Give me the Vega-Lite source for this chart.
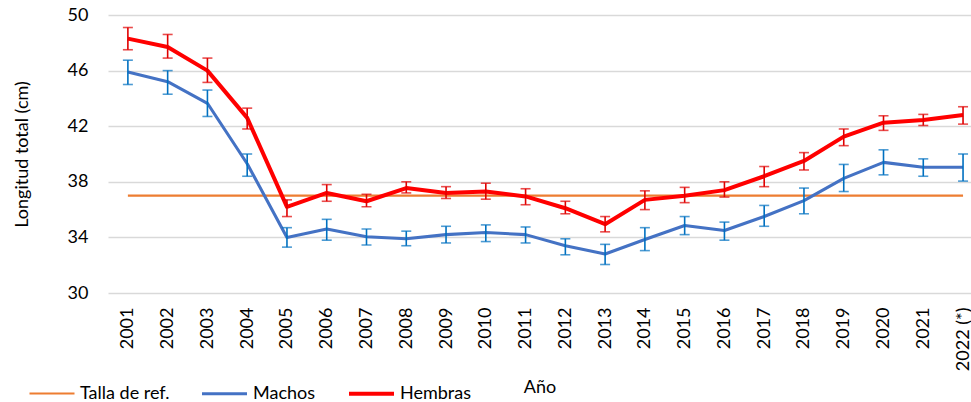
{
  "$schema": "https://vega.github.io/schema/vega-lite/v6.json",
  "width": 863,
  "height": 278,
  "autosize": {"type": "none"},
  "padding": {"left": 108, "top": 15, "right": 0, "bottom": 109},
  "background": "white",
  "config": {
    "font": "Lato",
    "view": {"stroke": null},
    "axis": {"labelFont": "Lato", "titleFont": "Lato", "labelColor": "#000000", "titleColor": "#000000", "titleFontWeight": "normal"}
  },
  "data": {
    "values": [
      {"year": 2001, "series": "Talla de ref.", "value": 37},
      {"year": 2022, "series": "Talla de ref.", "value": 37},
      {"year": 2001, "series": "Machos", "value": 45.9, "lo": 45.0, "hi": 46.75},
      {"year": 2002, "series": "Machos", "value": 45.2, "lo": 44.3, "hi": 46.0},
      {"year": 2003, "series": "Machos", "value": 43.65, "lo": 42.7, "hi": 44.6},
      {"year": 2004, "series": "Machos", "value": 39.3, "lo": 38.4, "hi": 40.0},
      {"year": 2005, "series": "Machos", "value": 34.0, "lo": 33.3, "hi": 34.7},
      {"year": 2006, "series": "Machos", "value": 34.6, "lo": 33.8, "hi": 35.3},
      {"year": 2007, "series": "Machos", "value": 34.05, "lo": 33.45, "hi": 34.6},
      {"year": 2008, "series": "Machos", "value": 33.9, "lo": 33.4, "hi": 34.45},
      {"year": 2009, "series": "Machos", "value": 34.2, "lo": 33.6, "hi": 34.8},
      {"year": 2010, "series": "Machos", "value": 34.35, "lo": 33.7, "hi": 34.9},
      {"year": 2011, "series": "Machos", "value": 34.2, "lo": 33.6, "hi": 34.75},
      {"year": 2012, "series": "Machos", "value": 33.4, "lo": 32.75, "hi": 33.9},
      {"year": 2013, "series": "Machos", "value": 32.8, "lo": 32.05, "hi": 33.5},
      {"year": 2014, "series": "Machos", "value": 33.85, "lo": 33.05, "hi": 34.7},
      {"year": 2015, "series": "Machos", "value": 34.85, "lo": 34.2, "hi": 35.5},
      {"year": 2016, "series": "Machos", "value": 34.5, "lo": 33.8, "hi": 35.1},
      {"year": 2017, "series": "Machos", "value": 35.5, "lo": 34.8, "hi": 36.3},
      {"year": 2018, "series": "Machos", "value": 36.65, "lo": 35.7, "hi": 37.55},
      {"year": 2019, "series": "Machos", "value": 38.25, "lo": 37.3, "hi": 39.25},
      {"year": 2020, "series": "Machos", "value": 39.4, "lo": 38.5, "hi": 40.3},
      {"year": 2021, "series": "Machos", "value": 39.05, "lo": 38.4, "hi": 39.65},
      {"year": 2022, "series": "Machos", "value": 39.05, "lo": 38.05, "hi": 40.0},
      {"year": 2001, "series": "Hembras", "value": 48.3, "lo": 47.5, "hi": 49.1},
      {"year": 2002, "series": "Hembras", "value": 47.7, "lo": 46.9, "hi": 48.6},
      {"year": 2003, "series": "Hembras", "value": 46.0, "lo": 45.15, "hi": 46.9},
      {"year": 2004, "series": "Hembras", "value": 42.6, "lo": 41.8, "hi": 43.3},
      {"year": 2005, "series": "Hembras", "value": 36.2, "lo": 35.5, "hi": 36.7},
      {"year": 2006, "series": "Hembras", "value": 37.2, "lo": 36.6, "hi": 37.8},
      {"year": 2007, "series": "Hembras", "value": 36.6, "lo": 36.2, "hi": 37.1},
      {"year": 2008, "series": "Hembras", "value": 37.55, "lo": 37.2, "hi": 38.0},
      {"year": 2009, "series": "Hembras", "value": 37.2, "lo": 36.8, "hi": 37.65},
      {"year": 2010, "series": "Hembras", "value": 37.3, "lo": 36.75, "hi": 37.9},
      {"year": 2011, "series": "Hembras", "value": 36.95, "lo": 36.35, "hi": 37.5},
      {"year": 2012, "series": "Hembras", "value": 36.1, "lo": 35.7, "hi": 36.6},
      {"year": 2013, "series": "Hembras", "value": 34.95, "lo": 34.4, "hi": 35.5},
      {"year": 2014, "series": "Hembras", "value": 36.7, "lo": 36.0, "hi": 37.35},
      {"year": 2015, "series": "Hembras", "value": 37.0, "lo": 36.5, "hi": 37.6},
      {"year": 2016, "series": "Hembras", "value": 37.4, "lo": 36.9, "hi": 38.0},
      {"year": 2017, "series": "Hembras", "value": 38.4, "lo": 37.65, "hi": 39.1},
      {"year": 2018, "series": "Hembras", "value": 39.5, "lo": 38.85, "hi": 40.1},
      {"year": 2019, "series": "Hembras", "value": 41.25, "lo": 40.6, "hi": 41.8},
      {"year": 2020, "series": "Hembras", "value": 42.25, "lo": 41.7, "hi": 42.75},
      {"year": 2021, "series": "Hembras", "value": 42.45, "lo": 42.05, "hi": 42.85},
      {"year": 2022, "series": "Hembras", "value": 42.8, "lo": 42.15, "hi": 43.4}
    ]
  },
  "encoding": {
    "x": {
      "field": "year",
      "type": "quantitative",
      "scale": {"domain": [2000.5, 2022.2], "nice": false, "zero": false},
      "axis": {
        "title": "Año",
        "titleFontSize": 18,
        "titleY": 94,
        "titleBaseline": "middle",
        "values": [2001,2002,2003,2004,2005,2006,2007,2008,2009,2010,2011,2012,2013,2014,2015,2016,2017,2018,2019,2020,2021,2022],
        "labelExpr": "datum.value == 2022 ? '2022 (*)' : '' + datum.value",
        "labelAngle": 270,
        "labelAlign": "right",
        "labelBaseline": "middle",
        "labelFontSize": 18,
        "labelPadding": 14,
        "labelOverlap": false,
        "labelFlush": false,
        "grid": false,
        "ticks": false,
        "domain": false
      }
    }
  },
  "layer": [
    {
      "mark": {"type": "line", "strokeCap": "butt", "strokeJoin": "round"},
      "encoding": {
        "y": {
          "field": "value",
          "type": "quantitative",
          "scale": {"domain": [30, 50], "nice": false, "zero": false},
          "axis": {
            "title": "Longitud total (cm)",
            "titleFontSize": 18,
            "titlePadding": 36,
            "values": [30, 34, 38, 42, 46, 50],
            "labelFontSize": 18,
            "labelPadding": 20,
            "grid": true,
            "gridColor": "#D9D9D9",
            "gridWidth": 1.3,
            "ticks": false,
            "domain": false
          }
        },
        "color": {
          "field": "series",
          "type": "nominal",
          "sort": ["Talla de ref.", "Machos", "Hembras"],
          "scale": {"domain": ["Talla de ref.", "Machos", "Hembras"], "range": ["#ED7D31", "#4472C4", "#FF0000"]},
          "legend": {
            "title": null,
            "orient": "none",
            "direction": "horizontal",
            "legendX": -80,
            "legendY": 354,
            "symbolType": "stroke",
            "symbolSize": 2025,
            "symbolStrokeWidth": 3.5,
            "labelFontSize": 18,
            "labelFont": "Lato",
            "labelColor": "#000000",
            "labelOffset": 4,
            "columnPadding": 25
          }
        },
        "strokeWidth": {
          "field": "series",
          "type": "nominal",
          "sort": ["Talla de ref.", "Machos", "Hembras"],
          "scale": {"domain": ["Talla de ref.", "Machos", "Hembras"], "range": [2.2, 4, 4]},
          "legend": null
        }
      }
    },
    {
      "transform": [{"filter": "datum.series != 'Talla de ref.'"}],
      "mark": {"type": "rule", "strokeWidth": 1.6},
      "encoding": {
        "y": {"field": "lo", "type": "quantitative"},
        "y2": {"field": "hi"},
        "color": {"condition": {"test": "datum.series == 'Machos'", "value": "#0070C0"}, "value": "#E00000"}
      }
    },
    {
      "transform": [{"filter": "datum.series != 'Talla de ref.'"}],
      "mark": {"type": "tick", "orient": "horizontal", "size": 10, "thickness": 1.6},
      "encoding": {
        "y": {"field": "lo", "type": "quantitative"},
        "color": {"condition": {"test": "datum.series == 'Machos'", "value": "#0070C0"}, "value": "#E00000"}
      }
    },
    {
      "transform": [{"filter": "datum.series != 'Talla de ref.'"}],
      "mark": {"type": "tick", "orient": "horizontal", "size": 10, "thickness": 1.6},
      "encoding": {
        "y": {"field": "hi", "type": "quantitative"},
        "color": {"condition": {"test": "datum.series == 'Machos'", "value": "#0070C0"}, "value": "#E00000"}
      }
    }
  ]
}
